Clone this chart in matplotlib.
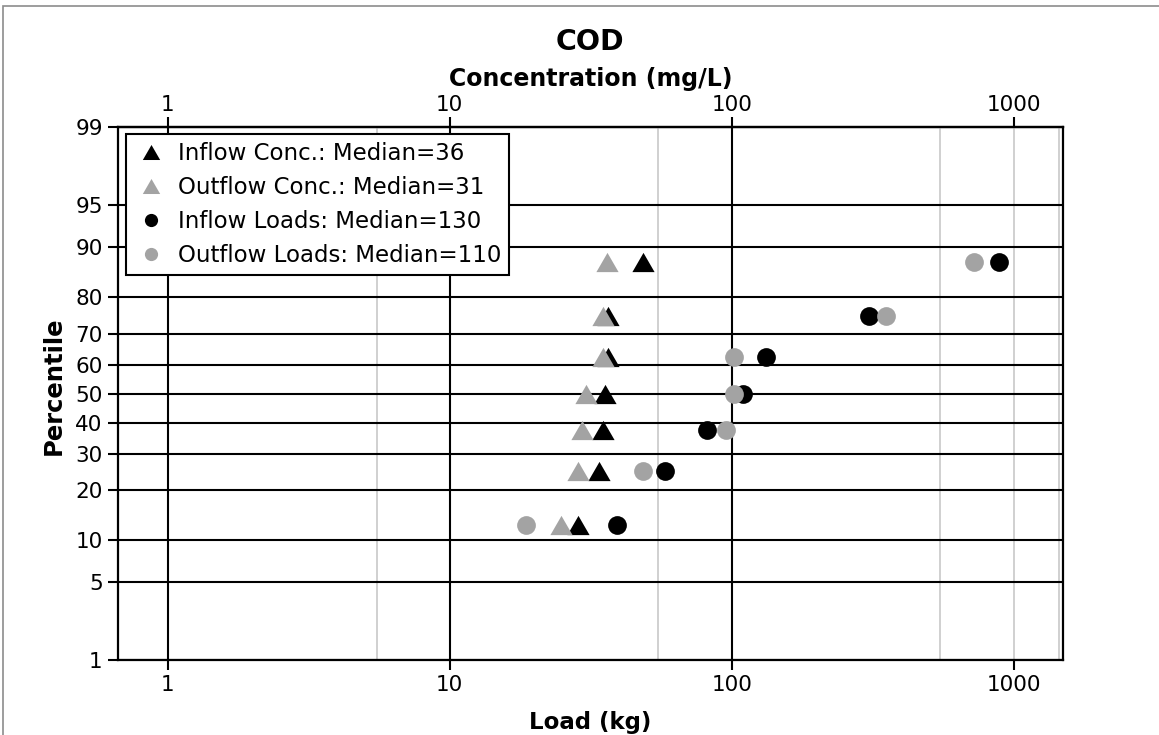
import math
import numpy as np
import matplotlib
matplotlib.use("Agg")
import matplotlib.pyplot as plt
from matplotlib.lines import Line2D
from matplotlib.patches import Rectangle
from matplotlib.ticker import NullLocator, FixedLocator, FixedFormatter

# plotting positions (Weibull, n = 7) and values read per series
percentiles = [12.5, 25, 37.5, 50, 62.5, 75, 87.5]
inflow_conc = [28.5, 33.8, 34.9, 35.5, 36.3, 36.3, 48.3]
outflow_conc = [24.8, 28.5, 29.4, 30.4, 34.9, 34.9, 36.0]
inflow_loads = [39.1, 57.9, 81.5, 110, 132, 306, 885]
outflow_loads = [18.6, 48.3, 95.2, 101.7, 101.7, 352, 727]

legend_labels = ["Inflow Conc.: Median=36", "Outflow Conc.: Median=31",
                 "Inflow Loads: Median=130", "Outflow Loads: Median=110"]

pct_ticks = [1, 5, 10, 20, 30, 40, 50, 60, 70, 80, 90, 95, 99]
x_ticks = [1, 10, 100, 1000]

GRAY = "#a3a3a3"
# equilateral triangle marker
TRI = [(-1, -0.866), (1, -0.866), (0, 0.866), (-1, -0.866)]

# normal probability scale (Acklam's inverse normal approximation)
_a = [-3.969683028665376e+01, 2.209460984245205e+02, -2.759285104469687e+02,
      1.383577518672690e+02, -3.066479806614716e+01, 2.506628277459239e+00]
_b = [-5.447609879822406e+01, 1.615858368580409e+02, -1.556989798598866e+02,
      6.680131188771972e+01, -1.328068155288572e+01]
_c = [-7.784894002430293e-03, -3.223964580411365e-01, -2.400758277161838e+00,
      -2.549671083850413e+00, 4.374664141464968e+00, 2.938163982698783e+00]
_d = [7.784695709041462e-03, 3.224671290700398e-01, 2.445134137142996e+00,
      3.754408661907416e+00]


def _tail(q):
    num = ((((_c[0] * q + _c[1]) * q + _c[2]) * q + _c[3]) * q + _c[4]) * q + _c[5]
    den = (((_d[0] * q + _d[1]) * q + _d[2]) * q + _d[3]) * q + 1
    return num / den


def pct_to_z(pct):
    p = np.clip(np.asarray(pct, dtype=float) / 100.0, 1e-12, 1 - 1e-12)
    shape = p.shape
    p = np.atleast_1d(p).ravel()
    z = np.empty_like(p)
    plow = 0.02425
    lo = p < plow
    hi = p > 1 - plow
    mid = ~(lo | hi)
    z[lo] = _tail(np.sqrt(-2 * np.log(p[lo])))
    z[hi] = -_tail(np.sqrt(-2 * np.log(1 - p[hi])))
    q = p[mid] - 0.5
    r = q * q
    num = (((((_a[0] * r + _a[1]) * r + _a[2]) * r + _a[3]) * r + _a[4]) * r + _a[5]) * q
    den = ((((_b[0] * r + _b[1]) * r + _b[2]) * r + _b[3]) * r + _b[4]) * r + 1
    z[mid] = num / den
    return z.reshape(shape)


_erf = np.vectorize(math.erf)


def z_to_pct(z):
    z = np.asarray(z, dtype=float)
    return 100.0 * 0.5 * (1 + _erf(z / math.sqrt(2)))


plt.rcParams["font.family"] = "DejaVu Sans"

fig = plt.figure(figsize=(11.59, 7.35), dpi=100)
ax = fig.add_axes([0.1018, 0.102, 0.8155, 0.725])

ax.set_xscale("log")
ax.set_yscale("function", functions=(pct_to_z, z_to_pct))
ax.set_xlim(0.665, 1500)
ax.set_ylim(1, 99)

# vertical grid: decades in black, in-between lines in light gray
for xv in [5.5, 55, 550, 1000, 1450]:
    ax.axvline(xv, color="#c8c8c8", lw=1.2, zorder=1)
for xv in [1, 10, 100]:
    ax.axvline(xv, color="black", lw=1.5, zorder=1)
for yv in pct_ticks:
    ax.axhline(yv, color="black", lw=1.5, zorder=1)

ms_tri = 16
ms_dot = 13.5
ax.plot(inflow_conc, percentiles, ls="none", marker=TRI, color="black", ms=ms_tri, mec="none", zorder=3)
ax.plot(outflow_conc, percentiles, ls="none", marker=TRI, color=GRAY, ms=ms_tri, mec="none", zorder=4)
ax.plot(inflow_loads, percentiles, "o", color="black", ms=ms_dot, mec="none", zorder=3)
ax.plot(outflow_loads, percentiles, "o", color=GRAY, ms=ms_dot, mec="none", zorder=4)

ax.yaxis.set_major_locator(FixedLocator(pct_ticks))
ax.yaxis.set_major_formatter(FixedFormatter([str(t) for t in pct_ticks]))
ax.yaxis.set_minor_locator(NullLocator())
ax.xaxis.set_major_locator(FixedLocator(x_ticks))
ax.xaxis.set_major_formatter(FixedFormatter([str(t) for t in x_ticks]))
ax.xaxis.set_minor_locator(NullLocator())

ax.tick_params(axis="both", direction="out", length=7, width=1.5, labelsize=15.5, pad=4)
for sp in ax.spines.values():
    sp.set_linewidth(1.6)
    sp.set_color("black")

sec = ax.secondary_xaxis("top")
sec.xaxis.set_major_locator(FixedLocator(x_ticks))
sec.xaxis.set_major_formatter(FixedFormatter([str(t) for t in x_ticks]))
sec.xaxis.set_minor_locator(NullLocator())
sec.tick_params(direction="out", length=7, width=1.5, labelsize=15.5, pad=2)
sec.spines["top"].set_linewidth(1.6)
sec.set_xlabel("Concentration (mg/L)", fontsize=17, fontweight="bold", labelpad=6)

ax.set_xlabel("Load (kg)", fontsize=16.5, fontweight="bold", labelpad=11)
ax.set_ylabel("Percentile", fontsize=17.5, fontweight="bold")
ax.yaxis.set_label_coords(-0.055, 0.514)
fig.text(0.509, 0.943, "COD", ha="center", va="center", fontsize=20.5, fontweight="bold")

handles = [
    Line2D([], [], ls="none", marker=TRI, color="black", ms=12.5, mec="none"),
    Line2D([], [], ls="none", marker=TRI, color=GRAY, ms=12.5, mec="none"),
    Line2D([], [], ls="none", marker="o", color="black", ms=9.5, mec="none"),
    Line2D([], [], ls="none", marker="o", color=GRAY, ms=9.5, mec="none"),
]
leg = ax.legend(handles, legend_labels, loc="upper left", bbox_to_anchor=(0.0085, 0.987),
                borderaxespad=0, fontsize=16.5, frameon=True, fancybox=False,
                framealpha=1, edgecolor="black", labelspacing=0.48,
                handletextpad=0.4, handlelength=1.5, borderpad=0.35)
leg.get_frame().set_linewidth(1.5)
leg.set_zorder(6)

# thin gray frame around the figure
fig.patches.append(Rectangle((3 / 1159, -0.05), 1.2, 1.05 - 6 / 735,
                             transform=fig.transFigure, fill=False,
                             edgecolor="#8c8c8c", lw=1.2))

fig.savefig("out.png", dpi=100)
